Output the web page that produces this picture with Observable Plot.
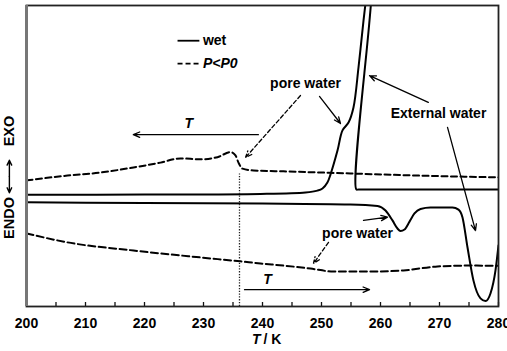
<!DOCTYPE html>
<html>
<head>
<meta charset="utf-8">
<script src="https://cdn.jsdelivr.net/npm/d3@7"></script>
<script src="https://cdn.jsdelivr.net/npm/@observablehq/plot@0.6"></script>
<style>
  body { margin: 0; background: #fff; }
  #chart svg { display: block; font-family: "Liberation Sans", Arial, sans-serif; }
</style>
</head>
<body>
<div id="chart"></div>
<script>
// DSC traces: temperature T (K) against heat flow (arbitrary units, exo up)

// Wet sample, cooling run (path order: from 280 K downwards, through the freezing spike)
const wetCoolingT = [280, 265, 256.3, 255.9, 258.6, 258.25, 257.9, 257.46, 257.12, 256.27, 255.42, 254.58, 253.56, 252.71, 251.53, 251.0, 250.17, 249.3, 247.29, 239.66, 220, 200];
const wetCoolingQ = [38.9, 38.9, 38.9, 38.9, 108.5, 113, 108.4, 100.7, 95.0, 79.4, 66.1, 61.1, 58.5, 51.8, 43.9, 41.2, 39.2, 38.5, 37.9, 37.4, 37.2, 37.1];

// Wet sample, heating run
const wetHeatingT = [200, 220, 240, 254.9, 259.5, 260.85, 262.03, 262.88, 263.39, 264.07, 264.92, 265.76, 266.78, 268.47, 272.2, 273.22, 273.9, 274.75, 275.76, 276.95, 277.8, 278.64, 279.49, 280];
const wetHeatingQ = [34.6, 34.4, 34.2, 33.9, 33.4, 31.9, 28.6, 25.9, 25.1, 25.6, 28.2, 30.9, 32.4, 32.9, 32.9, 32.2, 29.6, 19.6, 8.6, 2.7, 1.8, 4.3, 12.0, 20.3];

// P<P0 sample, cooling run
const partialCoolingT = [200, 206.95, 212.54, 218.14, 222.71, 226.1, 229.49, 232.37, 234.58, 235.42, 235.93, 236.61, 238.47, 243.56, 254.92, 266.27, 280];
const partialCoolingQ = [41.9, 43.5, 44.5, 46.2, 47.8, 49.2, 48.9, 49.6, 51.3, 50.2, 47.8, 45.8, 45.2, 44.9, 44.2, 43.5, 42.9];

// P<P0 sample, heating run
const partialHeatingT = [200, 206.95, 218.14, 229.49, 236.27, 239.66, 243.56, 248.14, 252.03, 258.31, 263.9, 269.66, 275.25, 280];
const partialHeatingQ = [24.3, 21.3, 18.6, 16.3, 15.0, 14.3, 13.6, 12.6, 11.6, 11.6, 12.0, 13.3, 13.6, 13.5];

// Axis ticks
const majorTicks = [200, 210, 220, 230, 240, 250, 260, 270, 280];
const minorTicks = [205, 215, 225, 235, 245, 255, 265, 275];

// Onset of pore-water freezing (dotted guide)
const onsetT = 236.1;
const onsetQ = [0, 44];

// Annotation arrows
const arrowT1 = [239.3, 236.95, 249.66, 246.44, 268.1, 271.36, 257.12, 251.19];
const arrowQ1 = [57.1, 5.6, 69.8, 70.1, 67.8, 59.5, 28.6, 21.3];
const arrowT2 = [218.1, 258.14, 253.22, 237.12, 258.14, 276.1, 261.19, 248.64];
const arrowQ2 = [57.1, 5.6, 60.8, 49.5, 76.7, 25.2, 29.7, 14.3];
const arrowDashed = [false, false, false, true, false, false, false, true];

// Annotation labels
const labelText = ["T", "T", "pore water", "External water", "pore water"];
const labelT = [227.5, 240.85, 247.29, 269.83, 256.1];
const labelQ = [60.8, 9.0, 74.1, 64.1, 24.3];
const labelItalic = [true, true, false, false, false];

// Legend
const legendNames = ["wet", "P<P0"];
const legendQ = [88.3, 80.7];
const legendLineT = [225.6, 229.3];
const legendTextT = 229.9;

// Heat-flow axis title, placed left of the frame (ENDO down, EXO up)
const yTitleT = 197.1;
const yTitleWords = ["EXO", "ENDO"];
const yTitleQ = [58.3, 29.4];
const yTitleArrowQ = [43.2, 48.6, 37.8];

const toRows = (T, Q) => T.map((t, i) => ({T: t, Q: Q[i]}));
const wetCooling = toRows(wetCoolingT, wetCoolingQ);
const wetHeating = toRows(wetHeatingT, wetHeatingQ);
const partialCooling = toRows(partialCoolingT, partialCoolingQ);
const partialHeating = toRows(partialHeatingT, partialHeatingQ);
const arrows = arrowT1.map((t, i) => ({x1: t, y1: arrowQ1[i], x2: arrowT2[i], y2: arrowQ2[i], dashed: arrowDashed[i]}));
const labels = labelText.map((s, i) => ({text: s, T: labelT[i], Q: labelQ[i], italic: labelItalic[i]}));
const legend = legendNames.map((n, i) => ({name: n, Q: legendQ[i], dashed: i === 1}));
const yTitle = yTitleWords.map((w, i) => ({text: w, Q: yTitleQ[i]}));
const yTitleArrows = [
  {x: yTitleT, y1: yTitleArrowQ[0], y2: yTitleArrowQ[1]},
  {x: yTitleT, y1: yTitleArrowQ[0], y2: yTitleArrowQ[2]}
];

const font = {fontSize: 14, fontWeight: "bold", fill: "#000"};
const arrowStyle = {x1: "x1", y1: "y1", x2: "x2", y2: "y2", stroke: "#000", strokeWidth: 1.3, headLength: 8, headAngle: 45};

const chart = Plot.plot({
  width: 507,
  height: 351,
  marginLeft: 26,
  marginRight: 9,
  marginTop: 5,
  marginBottom: 45,
  style: {fontFamily: "'Liberation Sans', Arial, sans-serif", background: "#fff"},
  x: {domain: [200, 280], ticks: majorTicks, tickFormat: d => String(d)},
  y: {domain: [0, 100], axis: null},
  marks: [
    // curves
    Plot.line(wetCooling, {x: "T", y: "Q", curve: "catmull-rom", stroke: "#000", strokeWidth: 2, clip: true}),
    Plot.line(wetHeating, {x: "T", y: "Q", curve: "monotone-x", stroke: "#000", strokeWidth: 2, clip: true}),
    Plot.line(partialCooling, {x: "T", y: "Q", curve: "monotone-x", stroke: "#000", strokeWidth: 2, strokeDasharray: "6,3.5", clip: true}),
    Plot.line(partialHeating, {x: "T", y: "Q", curve: "monotone-x", stroke: "#000", strokeWidth: 2, strokeDasharray: "7,3.5", clip: true}),
    // onset guide
    Plot.ruleX([onsetT], {y1: onsetQ[0], y2: onsetQ[1], stroke: "#222", strokeWidth: 1.3, strokeDasharray: "1.3,1.5"}),
    // annotation arrows
    Plot.arrow(arrows.filter(d => !d.dashed), arrowStyle),
    Plot.arrow(arrows.filter(d => d.dashed), {...arrowStyle, strokeDasharray: "4,2.5"}),
    // annotation labels
    Plot.text(labels.filter(d => !d.italic), {x: "T", y: "Q", text: "text", ...font}),
    Plot.text(labels.filter(d => d.italic), {x: "T", y: "Q", text: "text", ...font, fontStyle: "italic"}),
    // legend
    Plot.link(legend.filter(d => !d.dashed), {x1: legendLineT[0], x2: legendLineT[1], y1: "Q", y2: "Q", stroke: "#000", strokeWidth: 1.8}),
    Plot.link(legend.filter(d => d.dashed), {x1: legendLineT[0], x2: legendLineT[1], y1: "Q", y2: "Q", stroke: "#000", strokeWidth: 1.8, strokeDasharray: "5,3"}),
    Plot.text(legend.filter(d => !d.dashed), {x: legendTextT, y: "Q", text: "name", textAnchor: "start", ...font}),
    Plot.text(legend.filter(d => d.dashed), {x: legendTextT, y: "Q", text: "name", textAnchor: "start", ...font, fontStyle: "italic"}),
    // x ticks pointing inward
    Plot.ruleX(majorTicks, {insetTop: 297, stroke: "#111", strokeWidth: 1.3}),
    Plot.ruleX(minorTicks, {insetTop: 297, stroke: "#111", strokeWidth: 1.3}),
    Plot.axisX({ticks: majorTicks, tickSize: 0, tickPadding: 12, fontSize: 14, fontWeight: "bold", label: null, tickFormat: d => String(d)}),
    // x axis title
    Plot.text(["T"], {x: 240, frameAnchor: "bottom", dy: 37, dx: -2, textAnchor: "end", ...font, fontStyle: "italic"}),
    Plot.text(["/ K"], {x: 240, frameAnchor: "bottom", dy: 37, dx: 1, textAnchor: "start", ...font}),
    // y axis title
    Plot.text(yTitle, {x: yTitleT, y: "Q", text: "text", rotate: -90, ...font, fontSize: 14.5}),
    Plot.arrow(yTitleArrows, {x1: "x", x2: "x", y1: "y1", y2: "y2", stroke: "#000", strokeWidth: 1.4, headLength: 6, headAngle: 50}),
    // frame
    Plot.frame({stroke: "#222", strokeWidth: 1.8}),
    Plot.ruleX([200], {stroke: "#777", strokeWidth: 3})
  ]
});

document.getElementById("chart").appendChild(chart);
</script>
</body>
</html>
